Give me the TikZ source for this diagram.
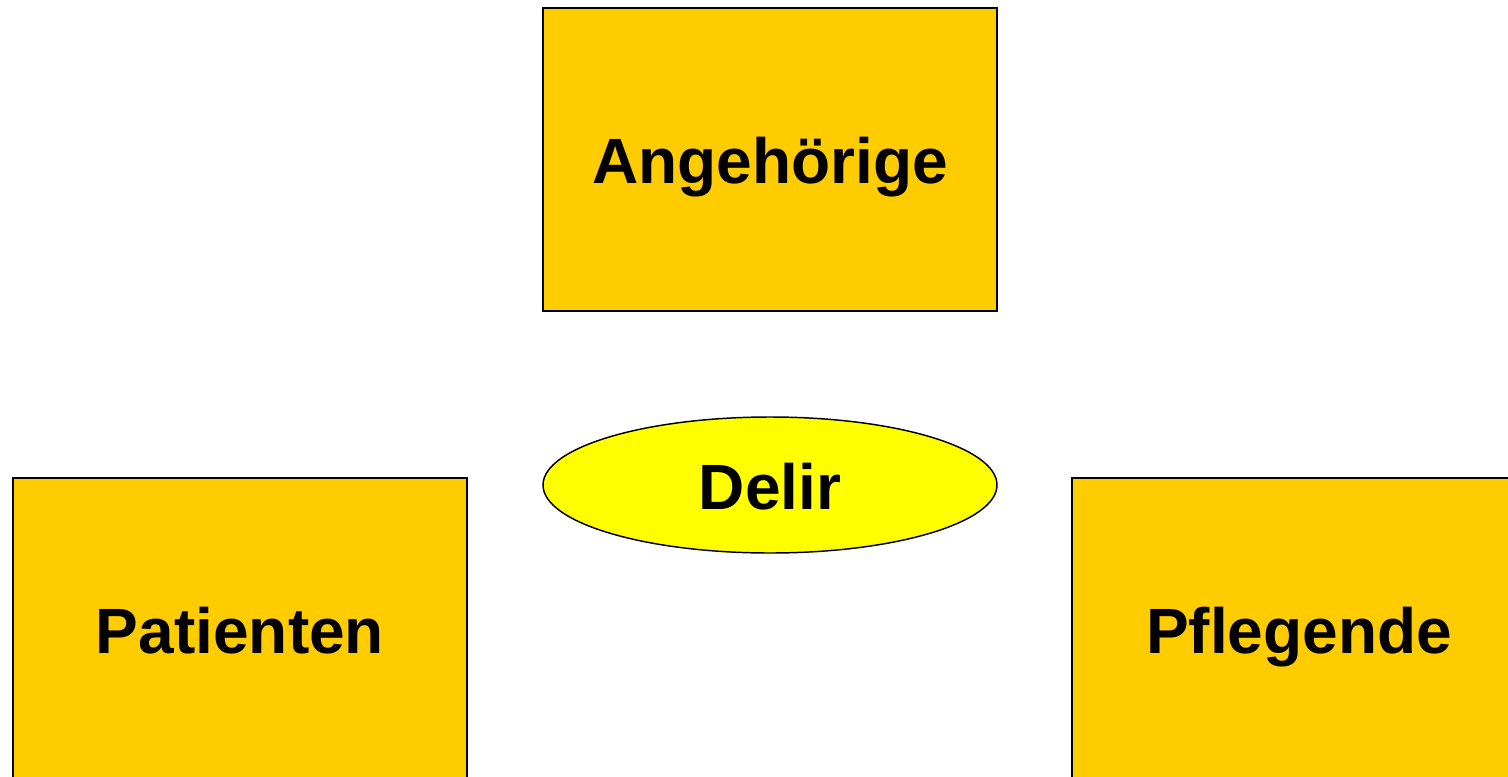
\documentclass[tikz,border=0pt]{standalone}
\usepackage{fontspec}
\setmainfont{Liberation Sans}
\usepackage{tikz}
\usetikzlibrary{shapes.geometric}

\definecolor{boxorange}{HTML}{FFCC00}
\definecolor{delirgelb}{HTML}{FFFF00}

\tikzset{
  gruppe/.style={draw=black,line width=1.1pt,fill=boxorange,rectangle,
    minimum width=340.5pt,minimum height=227pt,inner sep=0pt,
    font=\fontsize{48}{56}\selectfont\bfseries,text depth=0pt,text height=36pt},
  kern/.style={draw=black,line width=1.1pt,fill=delirgelb,ellipse,
    minimum width=340.5pt,minimum height=102pt,inner sep=0pt,
    font=\fontsize{48}{56}\selectfont\bfseries,text depth=0pt,text height=36pt}
}

\begin{document}
\begin{tikzpicture}[x=0.75pt,y=0.75pt,yscale=-1,xscale=1]
\useasboundingbox (0,0) rectangle (1508,777);
\clip (0,0) rectangle (1508,777);

        % die drei Gruppen
        \node [gruppe] (angeh) at (770,159.5) {Angehörige};
        \node [gruppe] (patient) at (240,629.5) {Patienten};
        \node [gruppe] (pflege) at (1299,629.5) {Pflegende};
        % in der Mitte
        \node [kern] (delir) at (770,485) {Delir};
\end{tikzpicture}
\end{document}
